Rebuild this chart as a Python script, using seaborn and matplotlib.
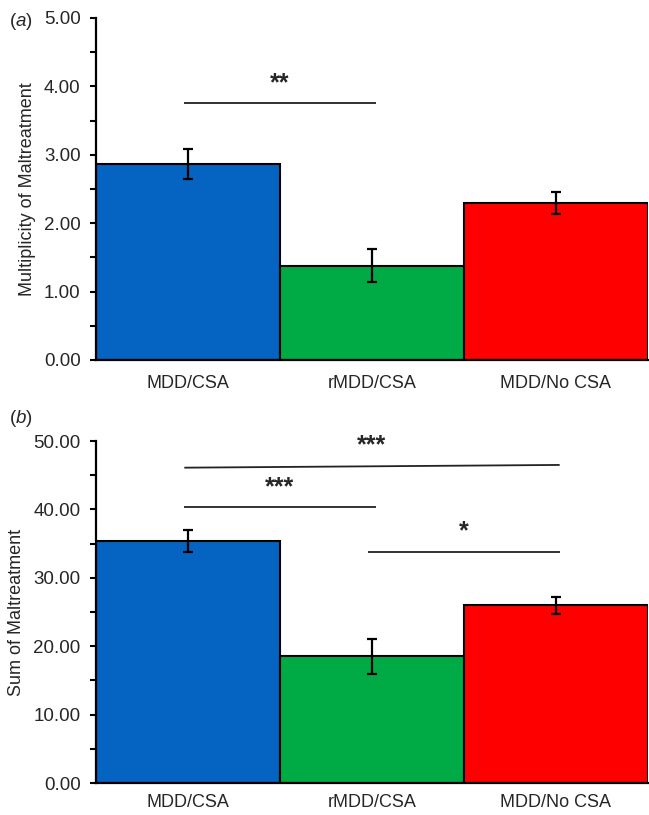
import matplotlib
matplotlib.use("Agg")
import matplotlib.pyplot as plt
import seaborn as sns
import pandas as pd
from matplotlib.ticker import MultipleLocator, FormatStrFormatter

groups = ["MDD/CSA", "rMDD/CSA", "MDD/No CSA"]
colors = ["#0563C1", "#00AB46", "#FF0000"]

mult_mean = [2.87, 1.38, 2.29]
mult_err = [0.22, 0.245, 0.16]

sum_mean = [35.4, 18.5, 26.0]
sum_err = [1.6, 2.5, 1.25]

# significance brackets: (start group, end group, y start, y end, label, label y)
sig_a = [(0, 1, 3.76, 3.76, "**", 4.05)]
sig_b = [(0, 2, 46.1, 46.5, "***", 49.4),
         (0, 1, 40.3, 40.3, "***", 43.2),
         (1, 2, 33.7, 33.7, "*", 36.8)]

sns.set_style("white")
plt.rcParams["font.family"] = ["Liberation Sans", "DejaVu Sans"]
plt.rcParams["mathtext.fontset"] = "custom"
plt.rcParams["mathtext.it"] = "Liberation Sans:italic"
plt.rcParams["mathtext.rm"] = "Liberation Sans"

fig = plt.figure(figsize=(6.49, 8.15), dpi=100)
ax1 = fig.add_axes([96/649, 1-360/815, 552/649, 342/815])
ax2 = fig.add_axes([96/649, 1-783/815, 552/649, 342/815])

def panel(ax, means, errs, ylim, major, minor, ylabel, sigs, xpad):
    df = pd.DataFrame({"group": groups, "value": means})
    sns.barplot(data=df, x="group", y="value", hue="group", palette=colors,
                width=1.0, edgecolor="black", linewidth=1.5, errorbar=None,
                legend=False, ax=ax, saturation=1)
    ax.errorbar(range(len(groups)), means, yerr=errs, fmt="none", ecolor="black",
                elinewidth=1.6, capsize=3.5, capthick=1.6, zorder=5)
    ax.set_xlim(-0.5, 2.5)
    ax.set_ylim(*ylim)
    ax.yaxis.set_major_locator(MultipleLocator(major))
    ax.yaxis.set_minor_locator(MultipleLocator(minor))
    ax.yaxis.set_major_formatter(FormatStrFormatter("%.2f"))
    ax.tick_params(axis="y", which="major", direction="out", length=4, width=1.5,
                   labelsize=13.5, pad=7, left=True, color="black")
    ax.tick_params(axis="y", which="minor", direction="out", length=4, width=1.5,
                   left=True, color="black")
    ax.tick_params(axis="x", length=0, labelsize=13, pad=xpad)
    ax.set_xlabel("")
    ax.set_ylabel(ylabel, fontsize=13, labelpad=6)
    for s in ["top", "right"]:
        ax.spines[s].set_visible(False)
    for s in ["left", "bottom"]:
        ax.spines[s].set_color("black")
        ax.spines[s].set_linewidth(1.6)
        ax.spines[s].set_zorder(6)
    for (g0, g1, y0, y1, lab, ly) in sigs:
        ax.plot([g0 - 0.02, g1 + 0.02], [y0, y1], color="#222222", lw=1.3,
                solid_capstyle="butt")
        ax.text((g0 + g1) / 2, ly, lab, ha="center", va="center",
                fontsize=18, fontweight="bold")
    return ax

panel(ax1, mult_mean, mult_err, (0, 5), 1, 0.5, "Multiplicity of Maltreatment",
      sig_a, 11)
panel(ax2, sum_mean, sum_err, (0, 50), 10, 5, "Sum of Maltreatment",
      sig_b, 8)

for letter, ly in [("a", 22), ("b", 418)]:
    fig.text(9/649, 1 - ly/815, r"($\mathit{" + letter + r"}$)", fontsize=13.5,
             va="center", ha="left")

fig.savefig("out.png", dpi=100)
